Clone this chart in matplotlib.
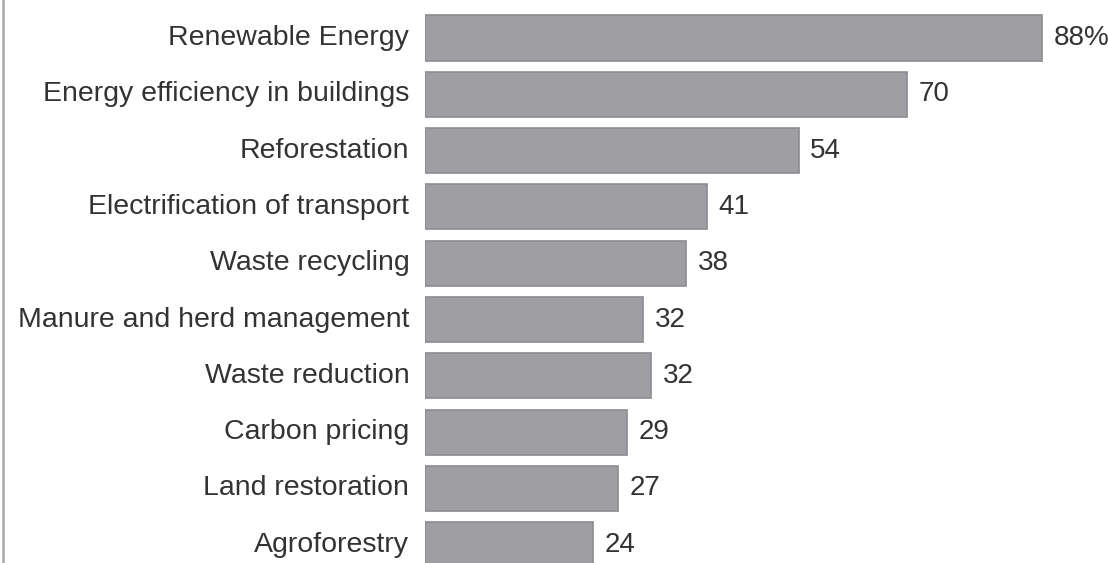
import matplotlib
matplotlib.use("Agg")
import matplotlib.pyplot as plt

categories = ["Renewable Energy", "Energy efficiency in buildings", "Reforestation",
              "Electrification of transport", "Waste recycling", "Manure and herd management",
              "Waste reduction", "Carbon pricing", "Land restoration", "Agroforestry"]
# bar lengths as drawn in the picture (percent)
values = [88, 68.8, 53.3, 40.2, 37.2, 31.2, 32.3, 28.8, 27.5, 24.0]
# printed value labels
value_labels = ["88%", "70", "54", "41", "38", "32", "32", "29", "27", "24"]

plt.rcParams['font.family'] = ['Liberation Sans', 'DejaVu Sans']

W, H = 1108, 563
fig = plt.figure(figsize=(W / 100, H / 100), dpi=100)
x0 = 424.6
ax = fig.add_axes([x0 / W, 0, (W - x0) / W, 1])

ypos = list(range(len(categories)))
ax.barh(ypos, values, height=0.8, color="#9f9ea3", edgecolor="#8c8b90", linewidth=1.2)

px_per_unit = (1042 - x0) / 88.0
ax.set_xlim(0, (W - x0) / px_per_unit)
ax.set_ylim(9.325, -0.675)
ax.axis("off")

for y, v, lab, cat in zip(ypos, values, value_labels, categories):
    ax.annotate(lab, (v, y), xytext=(8.5, 0), textcoords="offset points",
                ha="left", va="center", fontsize=20, color="#333333",
                annotation_clip=False)
    ax.annotate(cat, (0, y), xytext=(-11, 0), textcoords="offset points",
                ha="right", va="center", fontsize=20.5, color="#333333",
                annotation_clip=False)

fig.add_artist(plt.Line2D([2.5 / W, 2.5 / W], [0, 1], color="#a8a8a8", linewidth=1.8))

fig.savefig("out.png", dpi=100, facecolor="white")
